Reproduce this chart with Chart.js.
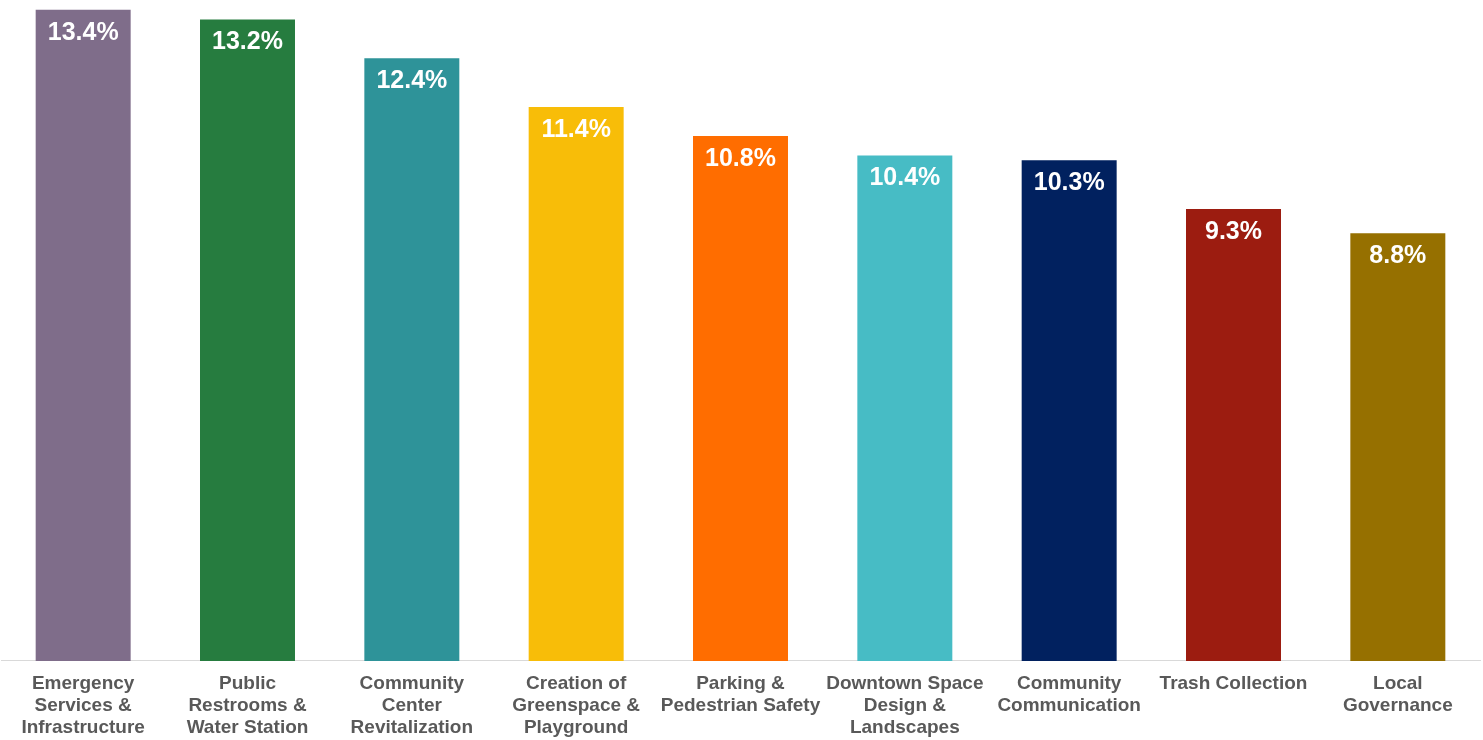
<!DOCTYPE html>
<html>
<head>
<meta charset="utf-8">
<script src="https://cdn.jsdelivr.net/npm/chart.js@4.4.1/dist/chart.umd.min.js"></script>
<style>
  html, body { margin: 0; padding: 0; background: #ffffff; }
  #wrap { width: 1483px; height: 740px; position: relative; }
</style>
</head>
<body>
<div id="wrap"><canvas id="c" width="1483" height="740"></canvas></div>
<script>
const categories = [
  ["Emergency", "Services &", "Infrastructure"],
  ["Public", "Restrooms &", "Water Station"],
  ["Community", "Center", "Revitalization"],
  ["Creation of", "Greenspace &", "Playground"],
  ["Parking &", "Pedestrian Safety"],
  ["Downtown Space", "Design &", "Landscapes"],
  ["Community", "Communication"],
  ["Trash Collection"],
  ["Local", "Governance"]
];
const values = [13.4, 13.2, 12.4, 11.4, 10.8, 10.4, 10.3, 9.3, 8.8];
const valueLabels = ["13.4%", "13.2%", "12.4%", "11.4%", "10.8%", "10.4%", "10.3%", "9.3%", "8.8%"];
const barColors = ["#7f6d8a", "#267c3f", "#2e9399", "#f8bd08", "#ff6d00", "#47bcc5", "#01215f", "#9c1c10", "#967000"];

const valueLabelPlugin = {
  id: 'valueLabels',
  afterDatasetsDraw(chart) {
    const ctx = chart.ctx;
    const meta = chart.getDatasetMeta(0);
    ctx.save();
    ctx.fillStyle = '#ffffff';
    ctx.font = 'bold 25px "Liberation Sans", Arial, sans-serif';
    ctx.textAlign = 'center';
    ctx.textBaseline = 'middle';
    meta.data.forEach((bar, i) => {
      ctx.fillText(valueLabels[i], bar.x, bar.y + 23);
    });
    ctx.restore();
  }
};

new Chart(document.getElementById('c'), {
  type: 'bar',
  data: {
    labels: categories,
    datasets: [{
      data: values,
      backgroundColor: barColors,
      borderWidth: 0,
      categoryPercentage: 1.0,
      barPercentage: 0.578
    }]
  },
  options: {
    responsive: false,
    animation: false,
    layout: { padding: { left: 1, right: 3, top: 0, bottom: -11 } },
    plugins: { legend: { display: false }, tooltip: { enabled: false } },
    scales: {
      y: { display: false, min: 0, max: 13.6 },
      x: {
        grid: { display: false, drawTicks: false },
        border: { display: true, color: '#d9d9d9', width: 1 },
        ticks: {
          color: '#595959',
          autoSkip: false,
          maxRotation: 0,
          minRotation: 0,
          padding: 12,
          font: { family: '"Liberation Sans", Arial, sans-serif', size: 19, weight: 'bold', lineHeight: 1.16 }
        }
      }
    }
  },
  plugins: [valueLabelPlugin]
});
</script>
</body>
</html>
